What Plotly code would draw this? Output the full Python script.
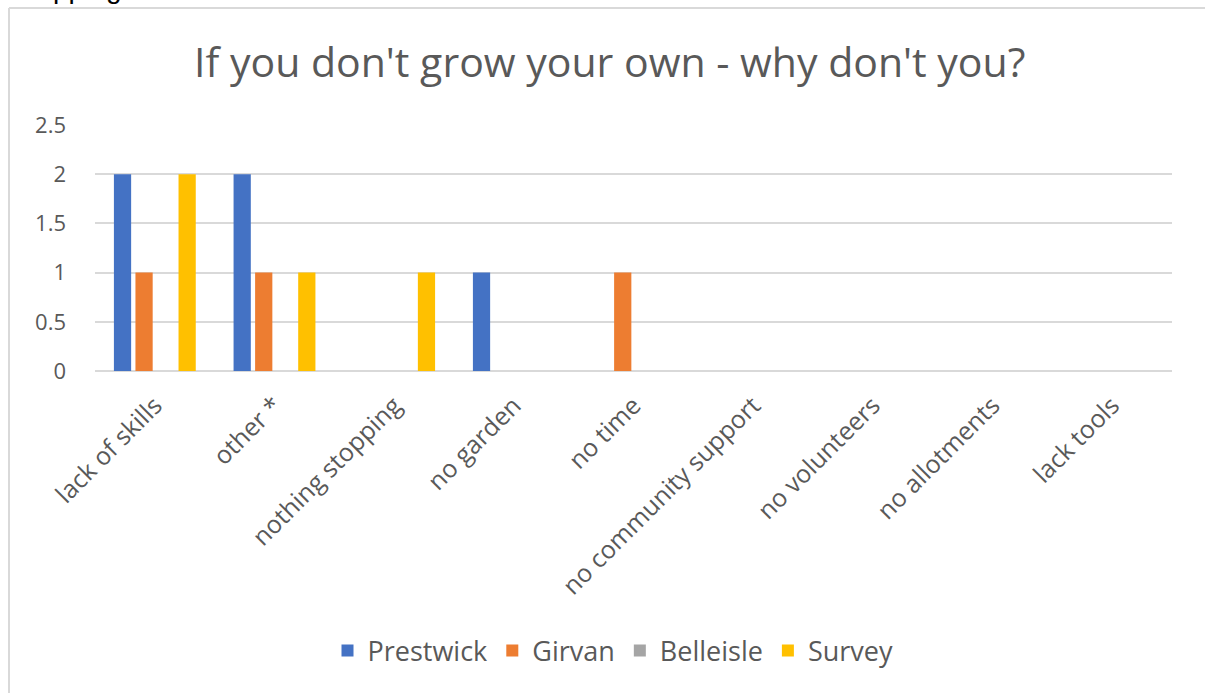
import plotly.graph_objects as go

# Survey answers: reasons for not growing your own food
categories = [
    "lack of skills", "other *", "nothing stopping", "no garden", "no time",
    "no community support", "no volunteers", "no allotments", "lack tools",
]
prestwick = [2, 2, 0, 1, 0, 0, 0, 0, 0]
girvan = [1, 1, 0, 0, 1, 0, 0, 0, 0]
belleisle = [0, 0, 0, 0, 0, 0, 0, 0, 0]
survey = [2, 1, 1, 0, 0, 0, 0, 0, 0]

series = [
    ("Prestwick", prestwick, "#4472C4"),
    ("Girvan", girvan, "#ED7D31"),
    ("Belleisle", belleisle, "#A5A5A5"),
    ("Survey", survey, "#FFC000"),
]

W, H = 1205, 693
ML, MR, MT, MB = 95, 33, 125, 322
PW, PH = W - ML - MR, H - MT - MB

TEXT = "#595959"
GRID = "#D9D9D9"
FONT = "Open Sans"


def px_x(x):
    return (x - ML) / PW


def px_y(y):
    return (H - MB - y) / PH


fig = go.Figure()
for name, vals, color in series:
    fig.add_trace(go.Bar(
        x=categories, y=vals, name=name,
        marker=dict(color=color, line=dict(width=0)),
    ))

fig.update_layout(
    width=W, height=H,
    margin=dict(l=ML, r=MR, t=MT, b=MB, autoexpand=False),
    paper_bgcolor="white", plot_bgcolor="white",
    barmode="group", bargap=0.28, bargroupgap=0.2,
    font=dict(family=FONT, color=TEXT),
    title=dict(
        text="If you don't grow your own - why don't you?",
        font=dict(size=41, color=TEXT, family=FONT),
        x=0.506, xref="container", xanchor="center",
        y=1 - 63 / H, yref="container", yanchor="middle",
    ),
    xaxis=dict(
        tickangle=-45, tickfont=dict(size=25, color=TEXT),
        showgrid=False, showline=False, ticks="", ticklabelstandoff=14,
    ),
    yaxis=dict(
        range=[0, 2.5], dtick=0.5, tickformat="~g",
        tickfont=dict(size=22, color=TEXT),
        showgrid=True, gridcolor=GRID, gridwidth=2,
        zeroline=True, zerolinecolor=GRID, zerolinewidth=2,
        showline=False, ticks="", ticklabelstandoff=28,
    ),
    legend=dict(
        orientation="h", x=px_x(613), xanchor="center",
        y=px_y(651), yanchor="middle",
        font=dict(size=27, color=TEXT), itemwidth=30,
        traceorder="normal",
    ),
    shapes=[
        # chart frame (left and top edges)
        dict(type="line", xref="paper", yref="paper",
             x0=px_x(9), x1=px_x(9), y0=px_y(8), y1=px_y(H + 10),
             line=dict(color=GRID, width=2)),
        dict(type="line", xref="paper", yref="paper",
             x0=px_x(9), x1=px_x(W + 10), y0=px_y(8), y1=px_y(8),
             line=dict(color=GRID, width=2)),
    ],
    annotations=[
        # page text running above the chart frame
        dict(text="Stopping the", xref="paper", yref="paper",
             x=px_x(9), xanchor="left", y=px_y(6), yanchor="bottom",
             showarrow=False, font=dict(size=28, color="#000000", family="Liberation Sans")),
    ],
)

fig.write_html("out.html")
